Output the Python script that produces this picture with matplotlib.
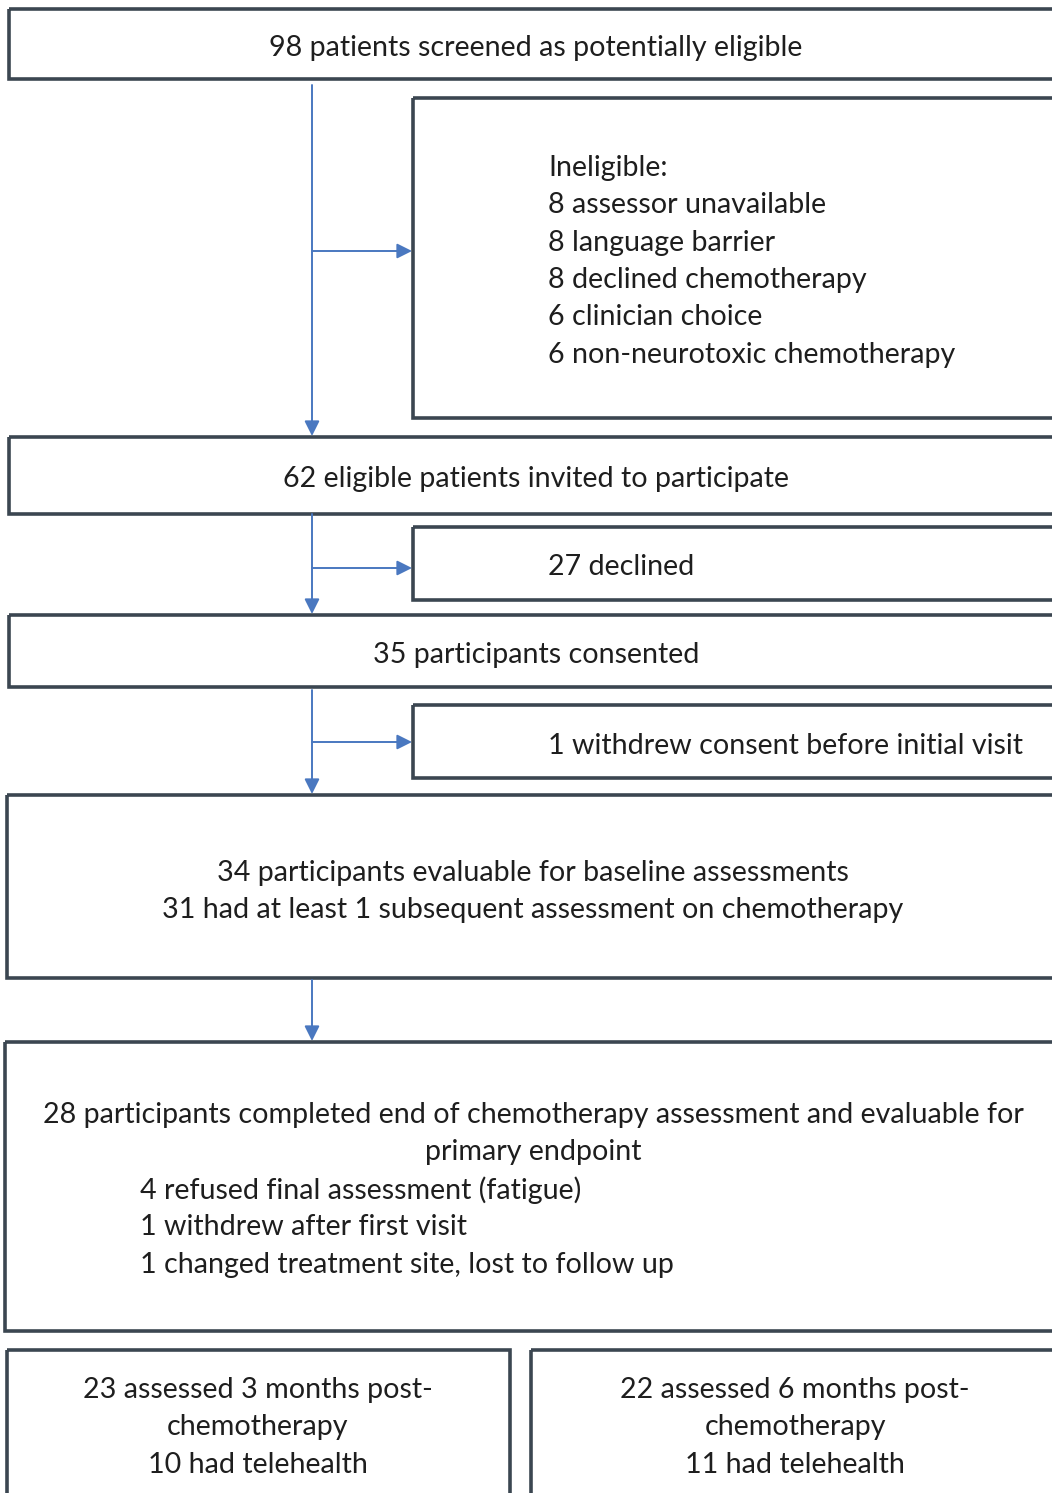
import matplotlib
matplotlib.use("Agg")
from matplotlib import pyplot as plt
from matplotlib.patches import Rectangle

W, H = 1052, 1493

# flowchart contents
screened = "98 patients screened as potentially eligible"
ineligible = ["Ineligible:", "8 assessor unavailable", "8 language barrier",
              "8 declined chemotherapy", "6 clinician choice",
              "6 non-neurotoxic chemotherapy"]
invited = "62 eligible patients invited to participate"
declined = "27 declined"
consented = "35 participants consented"
withdrew = "1 withdrew consent before initial visit"
baseline = ["34 participants evaluable for baseline assessments",
            "31 had at least 1 subsequent assessment on chemotherapy"]
endpoint_center = ["28 participants completed end of chemotherapy assessment and evaluable for",
                   "primary endpoint"]
endpoint_left = ["4 refused final assessment (fatigue)", "1 withdrew after first visit",
                 "1 changed treatment site, lost to follow up"]
month3 = ["23 assessed 3 months post-", "chemotherapy", "10 had telehealth"]
month6 = ["22 assessed 6 months post-", "chemotherapy", "11 had telehealth"]

EDGE = "#3b4651"
BLUE = "#4a78c0"
TXT = "#1e1e1e"
FS = 20.6
LH = 37.3

fig = plt.figure(figsize=(W / 100, H / 100), dpi=100)
ax = fig.add_axes([0, 0, 1, 1])
ax.set_xlim(0, W)
ax.set_ylim(H, 0)
ax.axis("off")


def box(x0, y0, x1, y1):
    ax.add_patch(Rectangle((x0, y0), x1 - x0, y1 - y0, fill=False,
                           edgecolor=EDGE, linewidth=2.6, clip_on=True))


def lines(items, x, y, ha="center"):
    for i, s in enumerate(items):
        ax.text(x, y + 2 + i * LH, s, ha=ha, va="center", fontsize=FS,
                color=TXT, family="Lato")


def arrow(x0, y0, x1, y1):
    ax.annotate("", xy=(x1, y1), xytext=(x0, y0),
                arrowprops=dict(arrowstyle="-|>,head_length=0.9,head_width=0.45",
                                color=BLUE, lw=1.4, shrinkA=0, shrinkB=0))


# boxes (right-hand ones run off the edge)
box(9, 9, 1070, 79)
lines([screened], 536, 46)

box(413, 98, 1070, 418)
lines(ineligible, 548, 166, ha="left")

box(9, 437, 1070, 514)
lines([invited], 536, 477)

box(413, 527, 1070, 600)
lines([declined], 548, 565, ha="left")

box(9, 615, 1070, 687)
lines([consented], 536, 653)

box(413, 705, 1070, 778)
lines([withdrew], 548, 744, ha="left")

box(7, 795, 1070, 978)
lines(baseline, 533, 871)

box(5, 1042, 1070, 1331)
lines(endpoint_center, 533, 1113)
lines(endpoint_left, 140, 1188, ha="left")

box(7, 1350, 510, 1510)
lines(month3, 258, 1388)

box(531, 1350, 1070, 1510)
lines(month6, 795, 1388)

# connectors
arrow(312, 85, 312, 436)
arrow(312, 251, 412, 251)
arrow(312, 514, 312, 614)
arrow(312, 568, 412, 568)
arrow(312, 690, 312, 794)
arrow(312, 742, 412, 742)
arrow(312, 980, 312, 1041)

fig.savefig("out.png", dpi=100, facecolor="white")
